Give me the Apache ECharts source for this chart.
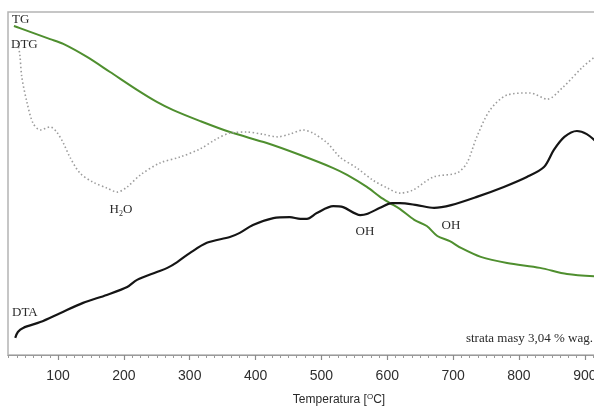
<!DOCTYPE html>
<html><head><meta charset="utf-8">
<script src="https://cdn.jsdelivr.net/npm/echarts@6/dist/echarts.min.js"></script>
<style>html,body{margin:0;padding:0;background:#fff;overflow:hidden}#c{width:594px;height:408px}</style>
</head><body><div id="c"></div>
<script>
// Temperature (°C) and signal (arbitrary units, 0-100)
const tgTemp = [33,42,88,108,144,179,220,250,275,316,361,417,468,518,539,569,589,604,619,641,660,676,695,712,742,782,832,873,917];
const tgVal  = [95.9,95.3,92.1,90.7,86.9,82.5,77.3,73.8,71.4,68.2,65.0,61.8,58.3,54.5,52.5,49.0,46.1,44.3,42.6,39.4,37.6,34.7,33.2,31.2,28.6,26.8,25.4,23.6,22.9];

const dtgTemp = [39,42,45,53,62,73,88,98,108,118,133,153,174,190,205,225,255,285,316,338,361,387,410,433,452,472,487,509,528,554,578,600,619,639,670,706,721,736,756,782,817,843,867,897,917];
const dtgVal  = [91.0,87.5,81.0,73.5,67.6,65.6,66.5,65.0,61.8,57.7,53.1,50.4,48.7,47.5,49.0,52.5,56.0,57.7,60.1,62.7,64.7,65.0,64.4,63.6,64.4,65.6,64.7,61.8,57.7,54.5,51.0,48.7,47.2,48.1,51.9,53.1,56.0,63.6,71.4,75.8,76.4,74.6,78.1,84.0,87.2];

const dtaTemp = [35,39,47,73,103,138,174,205,220,250,266,281,300,326,361,376,396,427,452,468,478,493,518,533,559,569,589,607,619,645,671,697,736,777,812,838,853,869,888,903,917];
const dtaVal  = [5.0,6.7,7.9,9.6,12.2,15.2,17.5,19.8,21.9,24.2,25.4,27.1,29.7,32.7,34.4,35.6,37.9,39.9,40.2,39.7,39.7,41.4,43.4,43.1,40.8,41.1,42.9,44.3,44.3,43.7,42.9,43.7,46.1,49.0,51.9,54.8,59.8,63.6,65.3,64.4,62.2];

const majorTicks = [100,200,300,400,500,600,700,800,900];
const tickLabels = ['100','200','300','400','500','600','700','800','900'];
const minorStep = 12.5;

const pairs = (t, v) => t.map((x, i) => [x, v[i]]);
const minorTicks = [];
for (let v = 25; v < 917; v += minorStep) if (v % 100 !== 0) minorTicks.push(v);

const serif = '"Liberation Serif","DejaVu Serif",serif';
const sans = '"Liberation Sans",Arial,sans-serif';
function txt(text, x, y, align, size, extra) {
  return Object.assign({
    type: 'text', x: x, y: y, z: 100,
    style: { text: text, font: size + 'px ' + serif, fill: '#2a2a2a',
      textAlign: align, align: align, textVerticalAlign: 'middle', verticalAlign: 'middle' }
  }, extra || {});
}

const chart = echarts.init(document.getElementById('c'), null, { renderer: 'canvas' });
chart.setOption({
  animation: false,
  backgroundColor: '#fff',
  grid: { left: 8, top: 12, right: -2, bottom: 53, outerBoundsMode: 'none', containLabel: false,
    show: true, borderColor: '#b4b4b4', borderWidth: 1.5, backgroundColor: 'transparent' },
  xAxis: [{
    type: 'value', min: 24, max: 917,
    axisLine: { show: true, lineStyle: { color: '#9a9a9a', width: 1.2 } },
    axisTick: { show: true, inside: false, length: 5, customValues: majorTicks, lineStyle: { color: '#8a8a8a', width: 1.2 } },
    axisLabel: { show: true, customValues: majorTicks, margin: 14, hideOverlap: false,
      formatter: v => tickLabels[majorTicks.indexOf(v)] || '',
      color: '#2e2e2e', fontSize: 14, fontFamily: sans },
    splitLine: { show: false }
  }, {
    type: 'value', min: 24, max: 917, position: 'bottom',
    axisLine: { show: false },
    axisTick: { show: true, inside: false, length: 3, customValues: minorTicks, lineStyle: { color: '#9a9a9a', width: 1 } },
    axisLabel: { show: false },
    splitLine: { show: false }
  }],
  yAxis: { type: 'value', min: 0, max: 100, show: false },
  series: [
    { name: 'TG', type: 'line', data: pairs(tgTemp, tgVal), smooth: 0.3, symbol: 'none',
      lineStyle: { color: '#4f8f2f', width: 2 } },
    { name: 'DTG', type: 'line', data: pairs(dtgTemp, dtgVal), smooth: 0.3, symbol: 'none',
      lineStyle: { color: '#9c9c9c', width: 1.6, type: [1.5, 2.5] } },
    { name: 'DTA', type: 'line', data: pairs(dtaTemp, dtaVal), smooth: 0.3, symbol: 'none',
      lineStyle: { color: '#151515', width: 2.2 } }
  ],
  graphic: [
    txt('TG', 12, 20, 'left', 13),
    txt('DTG', 11, 45, 'left', 13),
    txt('DTA', 12, 313, 'left', 13),
    txt('OH', 365, 232, 'center', 13),
    txt('OH', 451, 226, 'center', 13),
    txt('strata masy 3,04 % wag.', 593, 339, 'right', 13),
    {
      type: 'text', x: 121, y: 210, z: 100,
      style: { text: '{a|H}{s|2}{a|O}', textAlign: 'center', align: 'center', textVerticalAlign: 'middle', verticalAlign: 'middle',
        rich: { a: { font: '13px ' + serif, fill: '#2a2a2a', color: '#2a2a2a', lineHeight: 16, verticalAlign: 'middle' },
                s: { font: '8px ' + serif, fill: '#2a2a2a', color: '#2a2a2a', lineHeight: 16, padding: [8, 0, 0, 0], verticalAlign: 'middle' } } }
    },
    {
      type: 'text', x: 339, y: 400, z: 100,
      style: { text: '{a|Temperatura [}{s|O}{a|C]}', textAlign: 'center', align: 'center', textVerticalAlign: 'middle', verticalAlign: 'middle',
        rich: { a: { font: '12px ' + sans, fill: '#2a2a2a', color: '#2a2a2a', lineHeight: 14, verticalAlign: 'middle' },
                s: { font: '8px ' + sans, fill: '#2a2a2a', color: '#2a2a2a', lineHeight: 14, padding: [0, 0, 7, 0], verticalAlign: 'middle' } } }
    }
  ]
});
</script>
</body></html>
